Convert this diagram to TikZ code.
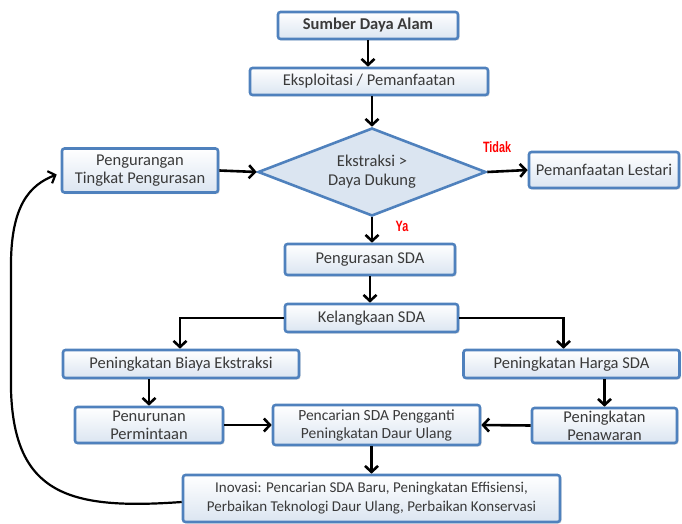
\documentclass[tikz,border=0pt]{standalone}
\usepackage{fontspec}
\setmainfont{Carlito}
\newfontfamily\labfont{Liberation Sans}
\usetikzlibrary{arrows.meta,shapes.geometric,shadows,calc}
\definecolor{boxblue}{HTML}{4F81BD}
\definecolor{boxfill}{HTML}{DBE5F1}
\definecolor{textgray}{HTML}{3A3A3A}
\definecolor{labred}{HTML}{FF0000}
\begin{document}
\begin{tikzpicture}[x=1pt,y=-1pt,
  box/.style={draw=boxblue, line width=2.6pt, rounded corners=2.5pt,
    top color=white, bottom color=boxfill, text=textgray,
    font=\fontsize{16.5}{18}\selectfont, align=center, inner sep=0pt,
    drop shadow={shadow xshift=1.5pt, shadow yshift=-1.5pt, opacity=0.25}},
  dec/.style={diamond, draw=boxblue, line width=2.6pt, fill=boxfill, text=textgray,
    font=\fontsize{16.5}{19}\selectfont, align=center, inner sep=0pt, aspect=2.6},
  arr/.style={draw=black, line width=2.6pt, -{Straight Barb[length=6pt,width=13pt]}},
  lab/.style={text=labred, font=\labfont\bfseries\fontsize{15}{16}\selectfont, xscale=0.72}
]
\useasboundingbox (0,0) rectangle (682,524);

\node[box, minimum width=180, minimum height=27] (sda) at (368,25.5) {\textbf{Sumber Daya Alam}};
\node[box, minimum width=238, minimum height=27] (eks) at (369,81.5) {Eksploitasi / Pemanfaatan};
\node[dec, minimum width=228, minimum height=88] (dia) at (372,172) {Ekstraksi >\\Daya Dukung};
\node[box, minimum width=156, minimum height=44] (peng) at (140,170.5) {Pengurangan\\Tingkat Pengurasan};
\node[box, minimum width=150, minimum height=36] (les) at (604,170) {Pemanfaatan Lestari};
\node[box, minimum width=170, minimum height=31] (kur) at (370,259.5) {Pengurasan SDA};
\node[box, minimum width=173, minimum height=28] (kel) at (371.5,318) {Kelangkaan SDA};
\node[box, minimum width=236, minimum height=28] (bia) at (181,364) {Peningkatan Biaya Ekstraksi};
\node[box, minimum width=216, minimum height=28] (har) at (571.5,364) {Peningkatan Harga SDA};
\node[box, minimum width=148, minimum height=36] (tur) at (149,425) {Penurunan\\Permintaan};
\node[box, minimum width=207, minimum height=40, font=\fontsize{15.5}{18}\selectfont] (cari) at (376.5,425) {Pencarian SDA Pengganti\\Peningkatan Daur Ulang};
\node[box, minimum width=145, minimum height=35] (naw) at (604.5,425.5) {Peningkatan\\Penawaran};
\node[box, minimum width=377, minimum height=47, font=\fontsize{15}{19}\selectfont] (ino) at (371.5,498.5) {Inovasi: Pencarian SDA Baru, Peningkatan Effisiensi,\\Perbaikan Teknologi Daur Ulang, Perbaikan Konservasi};

\node[lab] (tidak) at (497,147) {Tidak};
\node[lab] (ya) at (402,226) {Ya};

\draw[arr] (sda.south) -- (sda.south |- eks.north);
\draw[arr] (dia.north |- eks.south) -- (dia.north);
\draw[arr] (peng.east) -- (dia.west);
\draw[arr] (dia.east) -- (les.west);
\draw[arr] (dia.south) -- (dia.south |- kur.north);
\draw[arr] (kur.south) -- (kur.south |- kel.north);
\draw[arr] (kel.west) -| ([xshift=-1pt]bia.north);
\draw[arr] (kel.east) -| ([xshift=-8pt]har.north);
\draw[arr] (tur.north |- bia.south) -- (tur.north);
\draw[arr] (naw.north |- har.south) -- (naw.north);
\draw[arr] (tur.east) -- (cari.west);
\draw[arr] (naw.west) -- (cari.east);
\draw[arr] (ino.north |- cari.south) -- (ino.north);
\draw[line width=2.2pt, -{Straight Barb[length=6pt,width=13pt]}]
  ($(ino.west)+(0,3.5)$) .. controls (70,510) and (14,495) .. (11,390)
  -- (11,270) .. controls (10,205) and (30,185) .. ($(peng.west)+(-4,4)$);
\end{tikzpicture}
\end{document}
